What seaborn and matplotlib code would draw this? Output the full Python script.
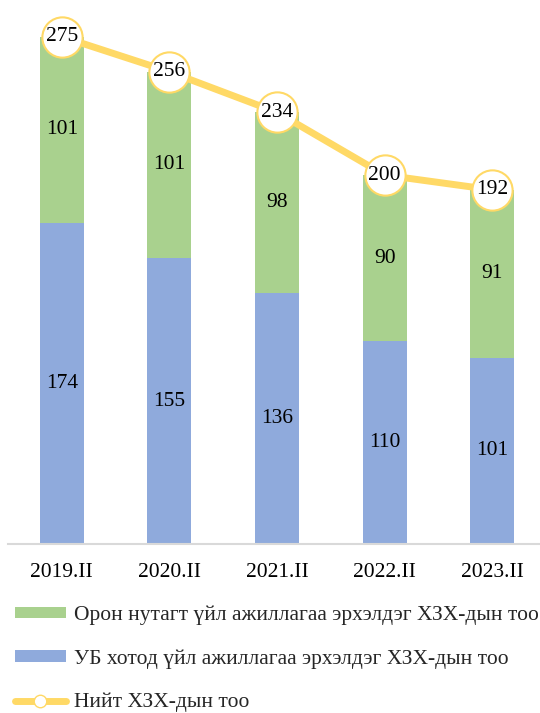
import numpy as np
import pandas as pd
import seaborn as sns
import matplotlib.pyplot as plt
from matplotlib.lines import Line2D
from matplotlib.patches import Patch
plt.switch_backend('agg')

periods = ['2019.II', '2020.II', '2021.II', '2022.II', '2023.II']
ub = [174, 155, 136, 110, 101]
rural = [101, 101, 98, 90, 91]
total = [275, 256, 234, 200, 192]

label_rural = 'Орон нутагт үйл ажиллагаа эрхэлдэг ХЗХ-дын тоо'
label_ub = 'УБ хотод үйл ажиллагаа эрхэлдэг ХЗХ-дын тоо'
label_total = 'Нийт ХЗХ-дын тоо'

c_green = '#A9D18E'
c_blue = '#8FAADC'
c_yellow = '#FFD966'

sns.set_theme(style='white')
plt.rcParams['font.family'] = ['Liberation Serif', 'DejaVu Serif']
fs = 15.5

df = pd.DataFrame({'Period': periods, 'UB': ub, 'Rural': rural, 'Total': total})
df['Stack'] = df['UB'] + df['Rural']

fig = plt.figure(figsize=(5.4, 7.13), dpi=100)
ax = fig.add_axes([8 / 540, 169 / 713, 538 / 540, 535 / 713])

# green first at full stack height, blue over the lower part
sns.barplot(data=df, x='Period', y='Stack', color=c_green, width=0.41, saturation=1,
            linewidth=0, ax=ax)
sns.barplot(data=df, x='Period', y='UB', color=c_blue, width=0.41, saturation=1,
            linewidth=0, ax=ax)

xs = np.arange(len(periods))
sns.lineplot(x=xs, y=df['Total'].values, color=c_yellow, linewidth=5, ax=ax, zorder=4)
ax.scatter(xs, df['Total'].values, s=29 ** 2, facecolor='white', edgecolor=c_yellow,
           linewidth=1.5, zorder=5)

for i in range(len(periods)):
    ax.text(i, ub[i] / 2, str(ub[i]), ha='center', va='center', fontsize=fs, color='black')
    ax.text(i, ub[i] + rural[i] / 2, str(rural[i]), ha='center', va='center', fontsize=fs, color='black')
    ax.text(i, total[i], str(total[i]), ha='center', va='center', fontsize=fs, color='black', zorder=6)

ax.set_xlim(-0.5, 4.5)
ax.set_ylim(0, 290)
ax.set_xlabel('')
ax.set_ylabel('')
ax.set_yticks([])
ax.tick_params(axis='x', length=0, pad=14, labelsize=fs, labelcolor='black')
for s in ['top', 'right', 'left']:
    ax.spines[s].set_visible(False)
ax.spines['bottom'].set_color('#D9D9D9')
ax.spines['bottom'].set_linewidth(1.5)

handles = [
    Patch(facecolor=c_green, edgecolor='none'),
    Patch(facecolor=c_blue, edgecolor='none'),
    Line2D([0], [0], color=c_yellow, linewidth=5, marker='o', markersize=9,
           markerfacecolor='white', markeredgecolor=c_yellow),
]
fig.legend(handles, [label_rural, label_ub, label_total], loc='upper left',
           bbox_to_anchor=(6 / 540, 1 - 597 / 713), frameon=False, fontsize=fs,
           handlelength=2.4, handleheight=0.45, handletextpad=0.35, labelspacing=1.12,
           borderaxespad=0)

fig.savefig('out.png', dpi=100)
